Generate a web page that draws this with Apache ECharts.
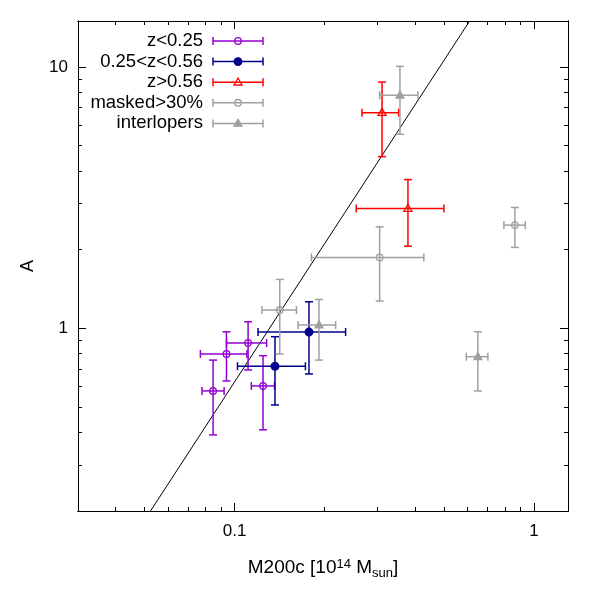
<!DOCTYPE html>
<html>
<head>
<meta charset="utf-8">
<script src="https://cdn.jsdelivr.net/npm/echarts@6/dist/echarts.min.js"></script>
<style>
  html, body { margin: 0; padding: 0; background: #fff; }
  #chart { width: 600px; height: 600px; }
</style>
</head>
<body>
<div id="chart"></div>
<script>
// values: [x, y, xLow, xHigh, yLow, yHigh]
var lowZ = [
    [0.0848, 0.576, 0.0779, 0.0923, 0.391, 0.756],
    [0.094, 0.798, 0.0769, 0.110, 0.629, 0.970],
    [0.111, 0.879, 0.094, 0.128, 0.693, 1.06],
    [0.1245, 0.602, 0.1138, 0.136, 0.409, 0.786]
];
var midZ = [
    [0.1365, 0.716, 0.1023, 0.1725, 0.509, 0.929],
    [0.1773, 0.968, 0.1198, 0.235, 0.669, 1.264]
];
var highZ = [
    [0.311, 6.69, 0.2666, 0.3534, 4.54, 8.76],
    [0.3796, 2.875, 0.255, 0.5006, 2.063, 3.71]
];
var masked = [
    [0.1416, 1.175, 0.1235, 0.161, 0.798, 1.539],
    [0.3053, 1.868, 0.1806, 0.429, 1.272, 2.445],
    [0.864, 2.483, 0.794, 0.936, 2.04, 2.90]
];
var interlopers = [
    [0.1915, 1.03, 0.163, 0.2177, 0.756, 1.29],
    [0.357, 7.80, 0.3053, 0.41, 5.53, 10.06],
    [0.650, 0.779, 0.5946, 0.702, 0.576, 0.97]
];
var relation = [[0.0524, 0.2], [0.61, 15]];

var xMajor = [0.1, 1];
var xMinor = [0.04, 0.05, 0.06, 0.07, 0.08, 0.09, 0.2, 0.3, 0.4, 0.5, 0.6, 0.7, 0.8, 0.9];
var yMajor = [1, 10];
var yMinor = [0.3, 0.4, 0.5, 0.6, 0.7, 0.8, 0.9, 2, 3, 4, 5, 6, 7, 8, 9];

var groups = [
    { name: 'z<0.25', data: lowZ, color: '#9400d3', sym: 'circle', filled: false },
    { name: '0.25<z<0.56', data: midZ, color: '#00008b', sym: 'circle', filled: true },
    { name: 'z>0.56', data: highZ, color: '#ff0000', sym: 'triangle', filled: false },
    { name: 'masked>30%', data: masked, color: '#a0a0a0', sym: 'circle', filled: false },
    { name: 'interlopers', data: interlopers, color: '#a0a0a0', sym: 'triangle', filled: true }
];

var FONT = "'Liberation Sans', Arial, sans-serif";
var CAP = 4;

function symbolShape(sym, filled, color, cx, cy) {
    var st = { stroke: color, lineWidth: 1.3, fill: filled ? color : 'none' };
    if (sym === 'circle') {
        return { type: 'circle', shape: { cx: cx, cy: cy, r: filled ? 3.8 : 3.3 }, style: st };
    }
    return {
        type: 'polygon',
        shape: { points: [[cx, cy - 4.2], [cx - 4, cy + 2.8], [cx + 4, cy + 2.8]] },
        style: st
    };
}

function errBars(g) {
    return function (params, api) {
        var c = api.coord([api.value(0), api.value(1)]);
        var xl = api.coord([api.value(2), api.value(1)])[0];
        var xh = api.coord([api.value(3), api.value(1)])[0];
        var yl = api.coord([api.value(0), api.value(4)])[1];
        var yh = api.coord([api.value(0), api.value(5)])[1];
        var st = { stroke: g.color, lineWidth: 1.5 };
        return {
            type: 'group',
            children: [
                { type: 'line', shape: { x1: xl, y1: c[1], x2: xh, y2: c[1] }, style: st },
                { type: 'line', shape: { x1: xl, y1: c[1] - CAP, x2: xl, y2: c[1] + CAP }, style: st },
                { type: 'line', shape: { x1: xh, y1: c[1] - CAP, x2: xh, y2: c[1] + CAP }, style: st },
                { type: 'line', shape: { x1: c[0], y1: yl, x2: c[0], y2: yh }, style: st },
                { type: 'line', shape: { x1: c[0] - CAP, y1: yl, x2: c[0] + CAP, y2: yl }, style: st },
                { type: 'line', shape: { x1: c[0] - CAP, y1: yh, x2: c[0] + CAP, y2: yh }, style: st },
                symbolShape(g.sym, g.filled, g.color, c[0], c[1])
            ]
        };
    };
}

// legend drawn by hand so the samples carry error bars
var legendItems = [];
var rowY0 = 41, rowStep = 20.6, textRight = 203, sampleL = 213, sampleR = 263;
groups.forEach(function (g, i) {
    var y = rowY0 + i * rowStep;
    var mid = (sampleL + sampleR) / 2;
    var st = { stroke: g.color, lineWidth: 1.5 };
    legendItems.push({
        type: 'text', x: textRight, y: y,
        style: { text: g.name, align: 'right', verticalAlign: 'middle', fill: '#000', font: '18.5px ' + FONT }
    });
    legendItems.push({ type: 'line', shape: { x1: sampleL, y1: y, x2: sampleR, y2: y }, style: st });
    legendItems.push({ type: 'line', shape: { x1: sampleL, y1: y - CAP, x2: sampleL, y2: y + CAP }, style: st });
    legendItems.push({ type: 'line', shape: { x1: sampleR, y1: y - CAP, x2: sampleR, y2: y + CAP }, style: st });
    legendItems.push(symbolShape(g.sym, g.filled, g.color, mid, y));
});

function xAxisDef(pos, ticks, len, withLabel) {
    return {
        type: 'log', logBase: 10, min: 0.03, max: 1.3, position: pos, gridIndex: 0,
        axisLine: { show: true, onZero: false, lineStyle: { color: '#000', width: 1 } },
        axisTick: { show: true, inside: true, length: len, customValues: ticks, lineStyle: { color: '#000', width: 1 } },
        axisLabel: withLabel ? {
            show: true, customValues: xMajor, margin: 12, color: '#000', fontSize: 17, fontFamily: FONT,
            formatter: function (v) { return String(v); }
        } : { show: false },
        splitLine: { show: false },
        minorTick: { show: false }
    };
}
function yAxisDef(pos, ticks, len, withLabel) {
    return {
        type: 'log', logBase: 10, min: 0.2, max: 15, position: pos, gridIndex: 0,
        axisLine: { show: true, onZero: false, lineStyle: { color: '#000', width: 1 } },
        axisTick: { show: true, inside: true, length: len, customValues: ticks, lineStyle: { color: '#000', width: 1 } },
        axisLabel: withLabel ? {
            show: true, customValues: yMajor, margin: 10, color: '#000', fontSize: 17, fontFamily: FONT,
            formatter: function (v) { return String(v); }
        } : { show: false },
        splitLine: { show: false },
        minorTick: { show: false }
    };
}

var xAxes = [
    xAxisDef('bottom', xMajor, 8, true),
    xAxisDef('bottom', xMinor, 4, false),
    xAxisDef('top', xMajor, 8, false),
    xAxisDef('top', xMinor, 4, false)
];
xAxes[0].name = '{a|M200c [10}{s|14}{a| M}{b|sun}{a|]}';
xAxes[0].nameLocation = 'middle';
xAxes[0].nameGap = 45;
xAxes[0].nameTextStyle = {
    color: '#000', fontFamily: FONT,
    rich: {
        a: { fontSize: 19, fontFamily: FONT, color: '#000' },
        s: { fontSize: 13, fontFamily: FONT, color: '#000', verticalAlign: 'bottom', padding: [0, 0, 9, 0] },
        b: { fontSize: 13, fontFamily: FONT, color: '#000', verticalAlign: 'top', padding: [11, 0, 0, 0] }
    }
};

var yAxes = [
    yAxisDef('left', yMajor, 8, true),
    yAxisDef('left', yMinor, 4, false),
    yAxisDef('right', yMajor, 8, false),
    yAxisDef('right', yMinor, 4, false)
];
yAxes[0].name = 'A';
yAxes[0].nameLocation = 'middle';
yAxes[0].nameGap = 41;
yAxes[0].nameTextStyle = { color: '#000', fontSize: 18, fontFamily: FONT };

var series = groups.map(function (g) {
    return {
        type: 'custom', name: g.name, xAxisIndex: 0, yAxisIndex: 0,
        renderItem: errBars(g),
        encode: { x: [0, 2, 3], y: [1, 4, 5] },
        itemStyle: { color: g.color },
        data: g.data,
        z: 3
    };
});
series.unshift({
    type: 'line', xAxisIndex: 0, yAxisIndex: 0,
    data: relation, showSymbol: false, symbol: 'none',
    lineStyle: { color: '#000', width: 1 }, z: 2, silent: true
});

var myChart = echarts.init(document.getElementById('chart'));
myChart.setOption({
    animation: false,
    backgroundColor: '#fff',
    grid: { left: 78, right: 32, top: 21, bottom: 89, containLabel: false },
    xAxis: xAxes,
    yAxis: yAxes,
    graphic: legendItems,
    series: series
});
</script>
</body>
</html>
